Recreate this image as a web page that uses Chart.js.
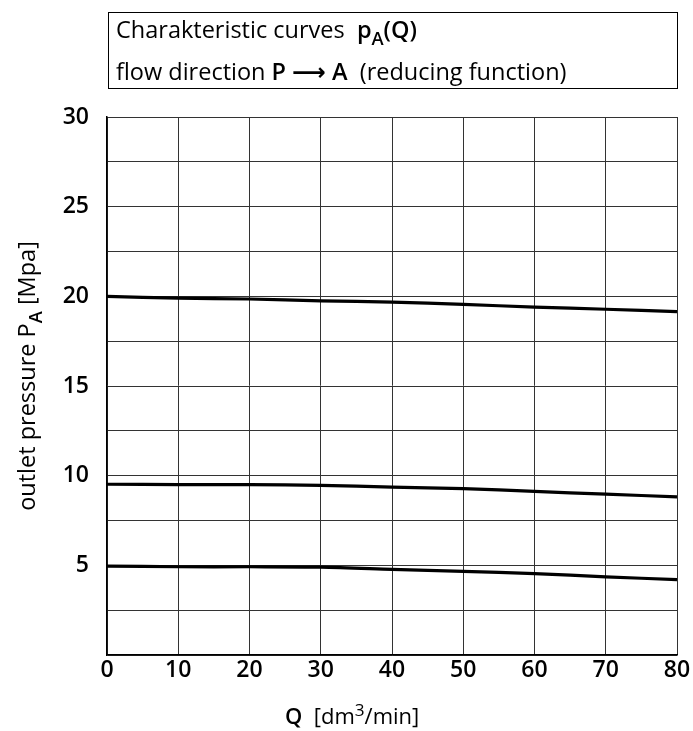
<!DOCTYPE html>
<html><head><meta charset="utf-8">
<script src="https://cdn.jsdelivr.net/npm/chart.js@4"></script>
<style>html,body{margin:0;padding:0;background:#fff}#wrap{width:693px;height:731px;position:relative}</style>
</head><body><div id="wrap"><canvas id="c"></canvas></div>
<script>
const flowQ = [0, 10, 20, 30, 40, 50, 60, 70, 80];
const curve20 = [20.0, 19.9, 19.85, 19.75, 19.68, 19.55, 19.4, 19.28, 19.15];
const curve10 = [9.52, 9.5, 9.5, 9.46, 9.36, 9.28, 9.12, 8.97, 8.82];
const curve5 = [4.96, 4.92, 4.92, 4.9, 4.78, 4.66, 4.54, 4.36, 4.2];
const xTicks = [0, 10, 20, 30, 40, 50, 60, 70, 80];
const yTickLabels = [5, 10, 15, 20, 25, 30];

const FONT = "'Open Sans', 'DejaVu Sans', sans-serif";

function mk(arr){ return flowQ.map((q,i)=>({x:q,y:arr[i]})); }
function ds(arr){ return {data:mk(arr), borderColor:'#000', borderWidth:3.2, pointRadius:0, tension:0.3, fill:false}; }

function drawRich(ctx, segs, x, y, size){
  let cx = x;
  for (const s of segs){
    const fs = (s.sub||s.sup) ? size*0.78 : size;
    ctx.font = (s.bold?'600 ':'400 ') + fs + 'px ' + FONT;
    const dy = s.sub ? size*0.28 : (s.sup ? -size*0.38 : 0);
    ctx.fillText(s.t, cx, y+dy);
    cx += ctx.measureText(s.t).width + (s.gap||0);
  }
  return cx - x;
}
function measureRich(ctx, segs, size){
  let w=0;
  for (const s of segs){
    const fs = (s.sub||s.sup) ? size*0.78 : size;
    ctx.font = (s.bold?'600 ':'400 ') + fs + 'px ' + FONT;
    w += ctx.measureText(s.t).width + (s.gap||0);
  }
  return w;
}

const decor = {
  id:'decor',
  afterDraw(chart){
    const ctx = chart.ctx, a = chart.chartArea;
    ctx.save();
    ctx.fillStyle='#000'; ctx.strokeStyle='#000'; ctx.lineWidth=1;
    // title box
    ctx.strokeRect(108.5, 12.5, a.right-108, 76);
    ctx.textBaseline='alphabetic'; ctx.textAlign='left';
    drawRich(ctx, [{t:'Charakteristic curves  '},{t:'p',bold:true},{t:'A',bold:true,sub:true},{t:'(Q)',bold:true}], 116, 38, 23.5);
    drawRich(ctx, [{t:'flow direction '},{t:'P',bold:true},{t:' \u27F6 ',bold:true},{t:'A',bold:true},{t:'  (reducing function)'}], 116, 80, 23.5);
    // x title
    const xs = [{t:'Q',bold:true},{t:'  [dm'},{t:'3',sup:true},{t:'/min]'}];
    drawRich(ctx, xs, 285, 724, 22);
    // y title
    ctx.translate(35, (a.top+a.bottom)/2 - 10);
    ctx.rotate(-Math.PI/2);
    const ys = [{t:'outlet pressure '},{t:'P',bold:false},{t:'A',bold:true,sub:true},{t:' [Mpa]'}];
    const wy = measureRich(ctx, ys, 23.5);
    drawRich(ctx, ys, -wy/2, 0, 23.5);
    ctx.restore();
  }
};

new Chart(document.getElementById('c'), {
  type:'line',
  data:{ datasets:[ds(curve20), ds(curve10), ds(curve5)] },
  options:{
    responsive:true, maintainAspectRatio:false, animation:false,
    layout:{ padding:{ top:117, right:16, bottom:0, left:0 } },
    plugins:{ legend:{display:false}, tooltip:{enabled:false} },
    scales:{
      x:{
        type:'linear', min:0, max:80,
        afterBuildTicks(s){ s.ticks = xTicks.map(v=>({value:v})); },
        afterFit(s){ s.height = 76; },
        grid:{ color:'#333', lineWidth:1, drawTicks:false },
        border:{ color:'#000', width:1.5 },
        ticks:{ color:'#000', padding:2, maxRotation:0, autoSkip:false, font:{ family:FONT, size:23, weight:'600' } }
      },
      y:{
        type:'linear', min:0, max:30,
        ticks:{ stepSize:2.5, color:'#000', padding:18, autoSkip:false,
          callback:(v)=> yTickLabels.includes(v) ? String(v) : '',
          font:{ family:FONT, size:23, weight:'600' } },
        afterFit(s){ s.width = 107; },
        grid:{ color:'#333', lineWidth:1, drawTicks:false },
        border:{ color:'#000', width:1.5 }
      }
    }
  },
  plugins:[decor]
});
</script></body></html>
